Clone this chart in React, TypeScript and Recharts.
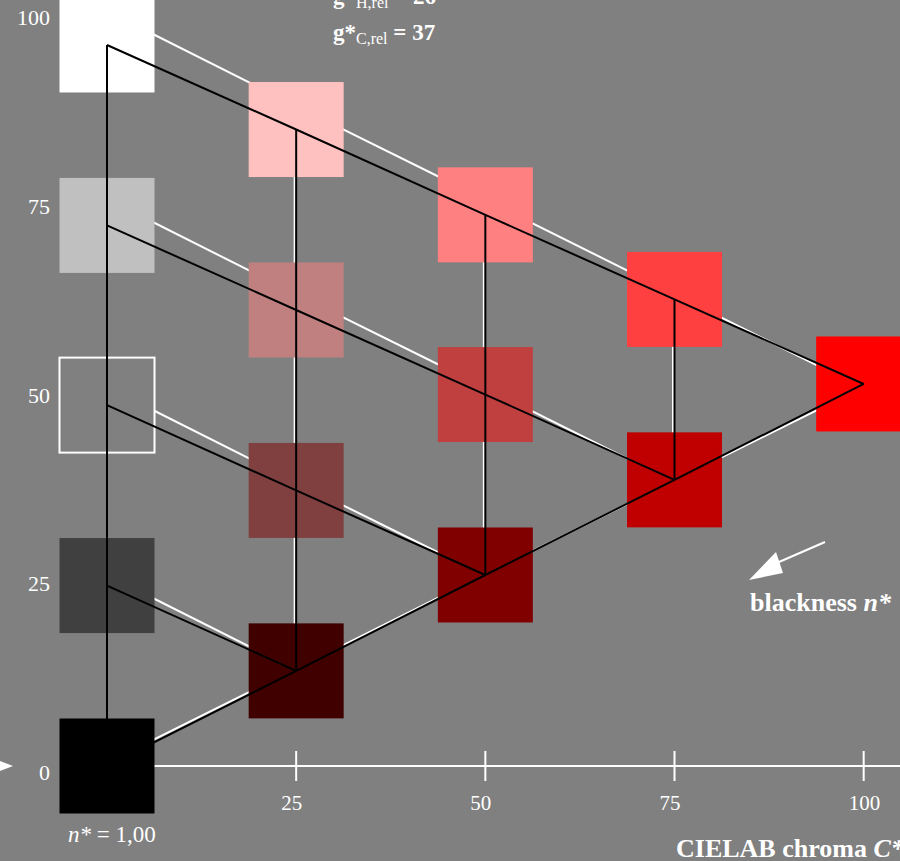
import { ScatterChart, Scatter, XAxis, YAxis } from "recharts";

const BG = "#808080";
const FONT = "'Liberation Serif', 'Times New Roman', serif";

// chroma of each column of the grid (target and measured)
const TARGET_C = [0, 25, 50, 75, 100];
const MEASURED_C = [0, 24.8, 49.8, 74.8, 99.8];

// lightness per column, from the black edge upward
const TARGET_L = [
  [0, 23.9, 47.8, 71.6, 95.5],
  [12.6, 36.5, 60.4, 84.3],
  [25.3, 49.2, 73.0],
  [37.9, 61.8],
  [50.6],
];
const MEASURED_L = [
  [0.4, 25.3, 50.2, 75.1, 100],
  [12.8, 37.7, 62.6, 87.5],
  [25.3, 50.2, 75.1],
  [37.7, 62.6],
  [50.1],
];

const SAMPLE_COLORS = [
  ["#000000", "#404040", "#808080", "#c0c0c0", "#ffffff"],
  ["#400000", "#804040", "#c08080", "#ffc0c0"],
  ["#800000", "#c04040", "#ff8080"],
  ["#c00000", "#ff4040"],
  ["#ff0000"],
];

const X_TICKS = [25, 50, 75, 100];
const Y_TICKS = [0, 25, 50, 75, 100];

type Pt = { x: number; y: number };

function gridLines(cs: number[], ls: number[][]): Pt[][] {
  const pt = (a: number, b: number) => ({ x: cs[a], y: ls[a][b] });
  const lines: Pt[][] = [];
  // constant chroma columns
  for (let a = 0; a < 4; a++) lines.push(ls[a].map((_, b) => pt(a, b)));
  // black to full colour
  lines.push(cs.map((_, a) => pt(a, 0)));
  // each gray step down to the black edge
  for (let k = 1; k <= 4; k++) {
    lines.push(Array.from({ length: k + 1 }, (_, j) => pt(j, k - j)));
  }
  return lines;
}

const measuredLines = gridLines(MEASURED_C, MEASURED_L);
const targetLines = gridLines(TARGET_C, TARGET_L);

const samples = SAMPLE_COLORS.flatMap((col, a) =>
  col.map((fill, b) => ({ x: TARGET_C[a], y: TARGET_L[a][b], fill }))
);

const NoDot = () => <g />;

const Swatch = (props: any) => {
  const { cx, cy, payload } = props;
  const outline = payload.fill === BG;
  return (
    <rect
      x={cx - 47.5}
      y={cy - 47.5}
      width={95}
      height={95}
      fill={payload.fill}
      stroke={outline ? "#ffffff" : "none"}
      strokeWidth={2}
    />
  );
};

const ChromaTick = (props: any) => {
  const { x, y, payload } = props;
  return (
    <g>
      <line x1={x} x2={x} y1={y - 15} y2={y + 15} stroke="#ffffff" strokeWidth={2} />
      <text x={x - 15} y={y + 44} fill="#ffffff" fontSize={21} fontFamily={FONT}>
        {payload.value}
      </text>
    </g>
  );
};

const LightnessTick = (props: any) => {
  const { x, y, payload } = props;
  return (
    <text x={x - 57} y={y + 14} textAnchor="end" fill="#ffffff" fontSize={22} fontFamily={FONT}>
      {payload.value}
    </text>
  );
};

export default function App() {
  return (
    <div style={{ position: "absolute", left: 0, top: 0, width: 900, height: 861, background: BG, overflow: "hidden" }}>
      <ScatterChart width={900} height={861} margin={{ top: 11, right: 0, bottom: 0, left: 0 }}>
        <XAxis
          type="number"
          dataKey="x"
          domain={[0, 104.8]}
          ticks={X_TICKS}
          height={95}
          tickSize={0}
          tickMargin={0}
          tickLine={false}
          axisLine={{ stroke: "#ffffff", strokeWidth: 2 }}
          tick={<ChromaTick />}
          interval={0}
        />
        <YAxis
          type="number"
          dataKey="y"
          domain={[0, 100]}
          ticks={Y_TICKS}
          width={107}
          tickSize={0}
          tickMargin={0}
          tickLine={false}
          axisLine={false}
          tick={<LightnessTick />}
          interval={0}
        />
        {measuredLines.map((pts, i) => (
          <Scatter
            key={`m${i}`}
            data={pts}
            shape={<NoDot />}
            line={{ stroke: "#ffffff", strokeWidth: 2 }}
            isAnimationActive={false}
          />
        ))}
        <Scatter data={samples} shape={<Swatch />} isAnimationActive={false} />
        {targetLines.map((pts, i) => (
          <Scatter
            key={`t${i}`}
            data={pts}
            shape={<NoDot />}
            line={{ stroke: "#000000", strokeWidth: 2 }}
            isAnimationActive={false}
          />
        ))}
      </ScatterChart>

      <svg
        width={900}
        height={861}
        style={{ position: "absolute", left: 0, top: 0, pointerEvents: "none" }}
        fontFamily={FONT}
        fill="#ffffff"
      >
        <text x={333} y={4} fontSize={23} fontWeight="bold">
          g*<tspan fontSize={16} fontWeight="normal" dy={4}>H,rel</tspan>
          <tspan dy={-4}> = 26</tspan>
        </text>
        <text x={333} y={40} fontSize={23} fontWeight="bold">
          g*<tspan fontSize={16} fontWeight="normal" dy={4}>C,rel</tspan>
          <tspan dy={-4}> = 37</tspan>
        </text>

        <line x1={825} y1={542} x2={779} y2={562} stroke="#ffffff" strokeWidth={2} />
        <polygon points="749,580 776,552 783,573" />
        <text x={750} y={611} fontSize={26} fontWeight="bold">
          blackness <tspan fontStyle="italic">n*</tspan>
        </text>

        <polygon points="0,761 13,766 0,771" />

        <text x={68} y={842} fontSize={23}>
          <tspan fontStyle="italic">n*</tspan> = 1,00
        </text>
        <text x={676} y={857} fontSize={26} fontWeight="bold">
          CIELAB chroma <tspan fontStyle="italic">C*</tspan>
        </text>
      </svg>
    </div>
  );
}
